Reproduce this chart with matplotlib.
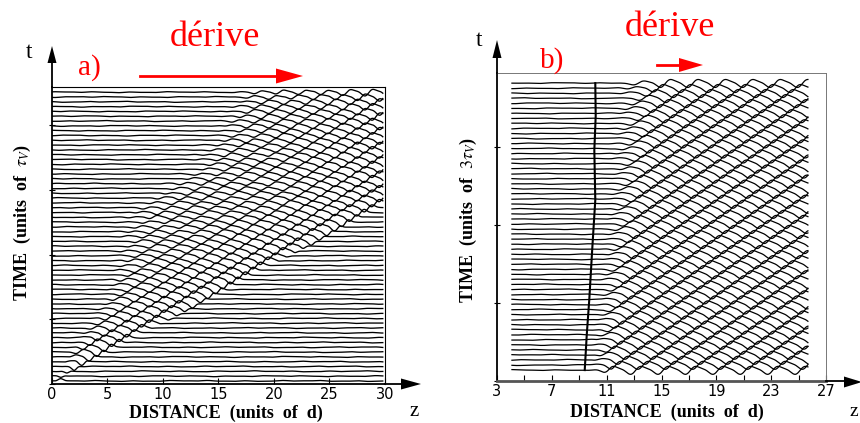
import numpy as np
import matplotlib
matplotlib.use("Agg")
import matplotlib.pyplot as plt
from matplotlib.patches import Polygon
from matplotlib.lines import Line2D

plt.rcParams['mathtext.fontset'] = 'stix'

# ---------------- values ----------------
# panel a
a_xticks = [0, 5, 10, 15, 20, 25, 30]
a_yticks = [0, 1, 2, 3, 4]
a_xlim = (0, 30)
a_ylim = (0, 4.59)
a_ntraces = 61
a_t_range = (0.047, 4.51)
a_z_range = (0.0, 29.8)
a_lead_t = [0.155, 2.79]          # leading edge of the drifting packet
a_lead_z = [1.0, 30.0]
a_trail_t = [0.0, 1.3, 2.7, 3.4, 4.6]   # rear of the packet
a_trail_z = [0.0, 4.0, 6.0, 12.0, 16.5]
a_rise = [0.8, 2.5, 3.5, 3.5, 3.0]
a_wavelength = 2.0
a_phase_speed = 9.0
a_amp_front = 0.055
a_amp_rear = 0.02

# panel b
b_xticks = [3, 7, 11, 15, 19, 23, 27]
b_xminor = [5, 9, 13, 17, 21, 25]
b_yticks = [0, 1, 2, 3]
b_xlim = (3, 27)
b_ylim = (0, 3.95)
b_ntraces = 58
b_t_range = (0.141, 3.82)
b_z_range = (4.09, 25.68)
b_onset_t = [0.14, 3.82]          # where the wave train starts growing
b_onset_z = [9.8, 11.6]
b_grow = [1.5, 3.2]
b_wavelength = 2.0
b_phase_speed = 8.2
b_amp = 0.047
b_line_t = [0.14, 0.6, 1.04, 1.7, 2.32, 2.96, 3.4, 3.82]   # thick front line
b_line_z = [9.4, 9.55, 9.73, 9.95, 10.17, 10.1, 10.2, 10.17]

W, H = 860, 423
fig = plt.figure(figsize=(8.6, 4.23), dpi=100)


def rect(l, r, t, b):
    return [l / W, 1 - b / H, (r - l) / W, (b - t) / H]


def fx(x):
    return x / W


def fy(y):
    return 1 - y / H


def ripple(z, j, s):
    return s * (np.sin(1.9 * z + 2.31 * j) * 0.6 + np.sin(3.7 * z + 0.77 * j * j) * 0.4
                + np.sin(0.63 * z + 1.37 * j) * 0.5)


def tri_h(xt, y, L, h, color):
    p = Polygon([[fx(xt), fy(y)], [fx(xt - L), fy(y - h / 2)], [fx(xt - L), fy(y + h / 2)]],
                closed=True, transform=fig.transFigure, color=color, lw=0)
    fig.add_artist(p)


def tri_v(x, yt, L, h, color):
    p = Polygon([[fx(x), fy(yt)], [fx(x - h / 2), fy(yt + L)], [fx(x + h / 2), fy(yt + L)]],
                closed=True, transform=fig.transFigure, color=color, lw=0)
    fig.add_artist(p)


def hline(x0, x1, y, color, lw):
    fig.add_artist(Line2D([fx(x0), fx(x1)], [fy(y), fy(y)], transform=fig.transFigure,
                          color=color, lw=lw))


def vline(x, y0, y1, color, lw):
    fig.add_artist(Line2D([fx(x), fx(x)], [fy(y0), fy(y1)], transform=fig.transFigure,
                          color=color, lw=lw))


# ---------------- panel a ----------------
axa = fig.add_axes(rect(52, 385, 87, 384))
ta = np.linspace(*a_t_range, a_ntraces)
za = np.linspace(*a_z_range, 1200)
ka = 2 * np.pi / a_wavelength
for j, t in enumerate(ta):
    zl = np.interp(t, a_lead_t, a_lead_z, right=a_lead_z[1] + 11 * (t - a_lead_t[1]))
    zt = np.interp(t, a_trail_t, a_trail_z)
    rise = np.interp(t, a_trail_t, a_rise)
    front = 0.5 * (1 - np.tanh((za - zl) / 0.3))
    rear = np.clip((za - zt) / rise, 0, 1) ** 1.2
    zref = min(zl, 31.0)
    amp = a_amp_rear + (a_amp_front - a_amp_rear) * np.exp(-np.clip(zref - za, 0, None) / 6.5)
    env = front * rear * amp
    phi = ka * (za - a_phase_speed * t)
    y = t + env * (np.sin(phi) + 0.3 * np.sin(2 * phi + 0.6)) + ripple(za, j, 0.006)
    axa.plot(za, y, color='k', lw=0.95)
axa.set_xlim(*a_xlim)
axa.set_ylim(*a_ylim)
axa.set_xticks(a_xticks)
axa.set_xticklabels([str(v) for v in a_xticks], fontsize=10.5, family='DejaVu Sans')
axa.set_yticks(a_yticks)
axa.set_yticklabels([])
axa.tick_params(axis='x', direction='in', length=4, width=0.8, pad=2)
axa.tick_params(axis='y', direction='inout', length=5, width=0.8)
for s in ['top', 'right']:
    axa.spines[s].set_linewidth(0.8)
for s in ['left', 'bottom']:
    axa.spines[s].set_linewidth(1.3)

# ---------------- panel b ----------------
axb = fig.add_axes(rect(497, 826, 73, 381))
tb = np.linspace(*b_t_range, b_ntraces)
zb = np.linspace(*b_z_range, 1200)
kb = 2 * np.pi / b_wavelength
for j, t in enumerate(tb):
    z0 = np.interp(t, b_onset_t, b_onset_z)
    g = np.interp(t, b_onset_t, b_grow)
    env = np.clip((zb - z0) / g, 0, 1) ** 1.3
    phi = kb * (zb - b_phase_speed * t)
    y = t + b_amp * env * (np.sin(phi) + 0.25 * np.sin(2 * phi + 0.5)) + ripple(zb, j, 0.005) * (1 - env)
    axb.plot(zb, y, color='k', lw=0.9)
axb.plot(b_line_z, b_line_t, color='k', lw=1.5)
axb.set_xlim(*b_xlim)
axb.set_ylim(*b_ylim)
axb.set_xticks(b_xticks)
axb.set_xticks(b_xminor, minor=True)
axb.set_xticklabels([str(v) for v in b_xticks], fontsize=10.5, family='DejaVu Sans')
axb.set_yticks(b_yticks)
axb.set_yticklabels([])
axb.tick_params(axis='x', which='both', direction='in', length=4, width=0.8, pad=2)
axb.tick_params(axis='y', direction='inout', length=5, width=0.8)
for s in ['top', 'right']:
    axb.spines[s].set_linewidth(0.7)
    axb.spines[s].set_color('#777777')
axb.spines['left'].set_linewidth(1.3)
axb.spines['bottom'].set_linewidth(2.0)
axb.spines['bottom'].set_color('#555555')

# ---------------- arrows ----------------
hline(385, 402, 384, 'k', 1.3)
tri_h(421, 384, 20, 11, 'k')
vline(52, 87, 62, 'k', 1.3)
tri_v(52, 46, 17, 9, 'k')

hline(826, 846, 381, 'k', 1.3)
tri_h(862, 382, 18, 11, 'k')
vline(497, 73, 58, 'k', 1.3)
tri_v(497, 40, 18, 9, 'k')

red = '#ff0000'
hline(140, 278, 76, red, 2.0)
tri_h(303, 76, 27, 15, red)
hline(657, 681, 65, red, 2.0)
tri_h(703, 65, 24, 14, red)

# ---------------- texts ----------------
serif = 'Liberation Serif'
fig.text(fx(29), fy(53), 't', fontsize=17, family=serif, ha='center', va='center')
fig.text(fx(479), fy(41), 't', fontsize=17, family=serif, ha='center', va='center')
fig.text(fx(414), fy(411), 'z', fontsize=15, family=serif, ha='center', va='center')
fig.text(fx(850), fy(411), 'z', fontsize=14, family=serif, ha='left', va='center')
fig.text(fx(89), fy(68), 'a)', fontsize=21, family=serif, color=red, ha='center', va='center')
fig.text(fx(552), fy(61), 'b)', fontsize=21, family=serif, color=red, ha='center', va='center')
fig.text(fx(215), fy(38), 'dérive', fontsize=26, family=serif, color=red, ha='center', va='center')
fig.text(fx(670), fy(27), 'dérive', fontsize=26, family=serif, color=red, ha='center', va='center')
fig.text(fx(226), fy(413), 'DISTANCE  (units  of  d)', fontsize=13, family=serif,
         weight='bold', ha='center', va='center')
fig.text(fx(667), fy(412), 'DISTANCE  (units  of  d)', fontsize=13, family=serif,
         weight='bold', ha='center', va='center')
fig.text(fx(22), fy(222), r'TIME  (units  of  $\tau_V$)', fontsize=13, family=serif,
         weight='bold', rotation=90, ha='center', va='center')
fig.text(fx(468), fy(220), r'TIME  (units  of  $3\tau_V$)', fontsize=13, family=serif,
         weight='bold', rotation=90, ha='center', va='center')

fig.savefig('out.png', dpi=100)
